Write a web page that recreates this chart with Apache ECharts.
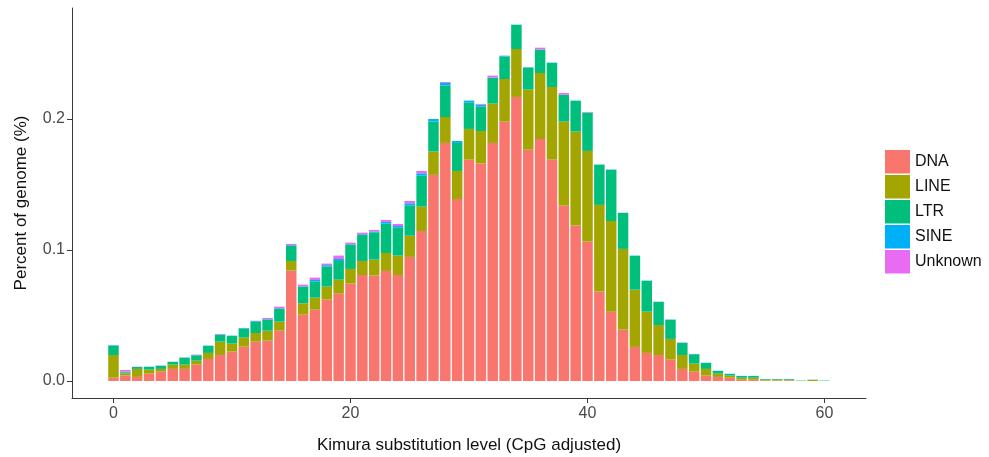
<!DOCTYPE html>
<html>
<head>
<meta charset="utf-8">
<script src="https://cdn.jsdelivr.net/npm/echarts@6/dist/echarts.min.js"></script>
<style>
  html, body { margin: 0; padding: 0; background: #fff; }
  #chart { width: 989px; height: 457px; }
</style>
</head>
<body>
<div id="chart"></div>
<script>
// Kimura substitution level bins (CpG adjusted), 0..60
const levels = Array.from({ length: 61 }, (_, i) => i);

// Percent of genome per repeat class in each bin
const dna = [
  0.0025, 0.0041, 0.0031, 0.0056, 0.0071, 0.0092, 0.0092, 0.0125, 0.0168, 0.0198,
  0.0224, 0.0262, 0.0300, 0.0308, 0.0384, 0.0842, 0.0506, 0.0544, 0.0621, 0.0667,
  0.0743, 0.0809, 0.0804, 0.0840, 0.0809, 0.0947, 0.1145, 0.1573, 0.1817, 0.1389,
  0.1690, 0.1659, 0.1817, 0.1980, 0.2168, 0.1766, 0.1847, 0.1690, 0.1338, 0.1186,
  0.1064, 0.0682, 0.0529, 0.0392, 0.0260, 0.0214, 0.0198, 0.0163, 0.0092, 0.0071,
  0.0041, 0.0031, 0.0025, 0.0010, 0.0010, 0.0003, 0.0003, 0.0003, 0.0000, 0.0000,
  0.0000
];
const line = [
  0.0173, 0.0018, 0.0061, 0.0031, 0.0021, 0.0033, 0.0033, 0.0030, 0.0046, 0.0102,
  0.0061, 0.0069, 0.0066, 0.0076, 0.0069, 0.0074, 0.0087, 0.0092, 0.0099, 0.0106,
  0.0112, 0.0107, 0.0122, 0.0137, 0.0148, 0.0162, 0.0186, 0.0178, 0.0198, 0.0214,
  0.0234, 0.0249, 0.0300, 0.0325, 0.0366, 0.0458, 0.0504, 0.0554, 0.0642, 0.0717,
  0.0692, 0.0662, 0.0692, 0.0616, 0.0437, 0.0315, 0.0229, 0.0158, 0.0106, 0.0061,
  0.0051, 0.0025, 0.0016, 0.0015, 0.0015, 0.0007, 0.0007, 0.0007, 0.0000, 0.0008,
  0.0000
];
const ltr = [
  0.0072, 0.0007, 0.0015, 0.0020, 0.0023, 0.0020, 0.0051, 0.0041, 0.0053, 0.0051,
  0.0058, 0.0068, 0.0087, 0.0084, 0.0097, 0.0117, 0.0125, 0.0122, 0.0154, 0.0143,
  0.0183, 0.0199, 0.0209, 0.0224, 0.0213, 0.0229, 0.0236, 0.0229, 0.0239, 0.0214,
  0.0201, 0.0186, 0.0196, 0.0171, 0.0184, 0.0168, 0.0178, 0.0183, 0.0203, 0.0234,
  0.0292, 0.0305, 0.0390, 0.0274, 0.0257, 0.0234, 0.0176, 0.0145, 0.0092, 0.0072,
  0.0045, 0.0020, 0.0012, 0.0013, 0.0013, 0.0005, 0.0005, 0.0005, 0.0003, 0.0002,
  0.0003
];
const sine = [
  0.0003, 0.0005, 0.0000, 0.0002, 0.0002, 0.0002, 0.0003, 0.0002, 0.0003, 0.0004,
  0.0003, 0.0005, 0.0005, 0.0004, 0.0005, 0.0004, 0.0004, 0.0013, 0.0010, 0.0015,
  0.0005, 0.0005, 0.0006, 0.0013, 0.0013, 0.0018, 0.0018, 0.0020, 0.0021, 0.0015,
  0.0015, 0.0015, 0.0003, 0.0007, 0.0002, 0.0003, 0.0002, 0.0003, 0.0002, 0.0003,
  0.0002, 0.0003, 0.0003, 0.0002, 0.0003, 0.0003, 0.0002, 0.0003, 0.0002, 0.0002,
  0.0002, 0.0002, 0.0002, 0.0001, 0.0001, 0.0000, 0.0000, 0.0000, 0.0000, 0.0000,
  0.0000
];
const unknown = [
  0.0002, 0.0013, 0.0002, 0.0000, 0.0001, 0.0000, 0.0000, 0.0003, 0.0000, 0.0004,
  0.0000, 0.0000, 0.0002, 0.0009, 0.0012, 0.0009, 0.0013, 0.0018, 0.0012, 0.0026,
  0.0013, 0.0012, 0.0012, 0.0015, 0.0015, 0.0018, 0.0018, 0.0000, 0.0007, 0.0000,
  0.0000, 0.0006, 0.0015, 0.0000, 0.0000, 0.0000, 0.0013, 0.0000, 0.0013, 0.0000,
  0.0003, 0.0000, 0.0000, 0.0000, 0.0000, 0.0000, 0.0000, 0.0000, 0.0002, 0.0000,
  0.0000, 0.0000, 0.0000, 0.0000, 0.0000, 0.0000, 0.0000, 0.0000, 0.0000, 0.0000,
  0.0000
];

const xTicks = [0, 20, 40, 60];
const yTicks = [0, 0.1, 0.2];

const classes = [
  { name: 'DNA', values: dna, color: '#F8766D' },
  { name: 'LINE', values: line, color: '#A3A500' },
  { name: 'LTR', values: ltr, color: '#00BF7D' },
  { name: 'SINE', values: sine, color: '#00B0F6' },
  { name: 'Unknown', values: unknown, color: '#E76BF3' }
];

// Empty slots on each side of the bins give the axis some breathing room.
const PAD = 3;
const slots = [];
for (let v = levels[0] - PAD; v <= levels[levels.length - 1] + PAD; v++) slots.push(String(v));
const valuesOnSlots = values => slots.map(s => {
  const i = levels.indexOf(Number(s));
  return i < 0 ? null : values[i];
});
const isTick = (idx, value) => xTicks.indexOf(Number(value)) >= 0;

const FONT = 'Liberation Sans, Arial, sans-serif';
const AXIS_COLOR = '#3a3a3a';
const TEXT_COLOR = '#4a4a4a';

const chart = echarts.init(document.getElementById('chart'), null, { renderer: 'canvas' });

chart.setOption({
  backgroundColor: '#fff',
  animation: false,
  grid: { left: 72, right: 123, top: 8, bottom: 59, containLabel: false, outerBoundsMode: 'none' },
  legend: {
    orient: 'vertical',
    left: 880,
    top: 145,
    itemWidth: 25,
    itemHeight: 23.5,
    itemGap: 1.5,
    icon: 'rect',
    textStyle: { fontFamily: FONT, fontSize: 16, color: '#111' },
    data: classes.map(c => c.name)
  },
  xAxis: {
    type: 'category',
    data: slots,
    name: 'Kimura substitution level (CpG adjusted)',
    nameLocation: 'middle',
    nameGap: 39,
    nameTextStyle: { fontFamily: FONT, fontSize: 17, color: '#111' },
    axisLine: { show: true, onZero: false, lineStyle: { color: AXIS_COLOR, width: 1 } },
    axisTick: { show: true, length: 5, alignWithLabel: true, interval: isTick, lineStyle: { color: AXIS_COLOR } },
    axisLabel: { interval: isTick, fontFamily: FONT, fontSize: 16, color: TEXT_COLOR, margin: 8 },
    splitLine: { show: false }
  },
  yAxis: {
    type: 'value',
    min: -0.013,
    max: 0.2847,
    name: 'Percent of genome (%)',
    nameLocation: 'middle',
    nameGap: 42,
    nameTextStyle: { fontFamily: FONT, fontSize: 17, color: '#111' },
    axisLine: { show: true, onZero: false, lineStyle: { color: AXIS_COLOR, width: 1 } },
    axisTick: { show: true, length: 5, customValues: yTicks, lineStyle: { color: AXIS_COLOR } },
    axisLabel: {
      customValues: yTicks,
      formatter: v => v.toFixed(1),
      fontFamily: FONT, fontSize: 16, color: TEXT_COLOR, margin: 7
    },
    splitLine: { show: false }
  },
  series: classes.map(c => ({
    name: c.name,
    type: 'bar',
    stack: 'genome',
    barWidth: 10.5,
    itemStyle: { color: c.color },
    emphasis: { disabled: true },
    data: valuesOnSlots(c.values)
  }))
});
</script>
</body>
</html>
